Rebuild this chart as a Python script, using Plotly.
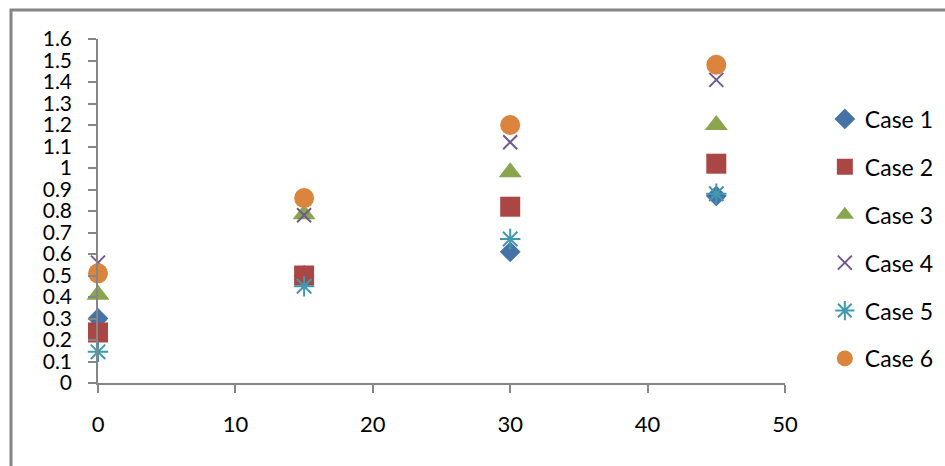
import plotly.graph_objects as go

# Sampling times and measured values for each case
x_vals = [0, 15, 30, 45]
case_names = ["Case 1", "Case 2", "Case 3", "Case 4", "Case 5", "Case 6"]
case1 = [0.30, 0.50, 0.61, 0.87]
case2 = [0.235, 0.50, 0.82, 1.02]
case3 = [0.41, 0.785, 0.98, 1.20]
case4 = [0.56, 0.78, 1.12, 1.41]
case5 = [0.145, 0.45, 0.67, 0.88]
case6 = [0.51, 0.86, 1.20, 1.48]
y_tick_vals = [round(i * 0.1, 1) for i in range(17)]
y_tick_text = ["0" if v == 0 else ("1" if v == 1 else f"{v:g}") for v in y_tick_vals]
x_tick_vals = [0, 10, 20, 30, 40, 50]

series = [case1, case2, case3, case4, case5, case6]
colors = ["#4572A7", "#AA4643", "#89A54E", "#71588F", "#4198AF", "#DB843D"]
symbols = ["diamond", "square", "triangle-up", "x-thin-open", "asterisk-open", "circle"]
sizes = [16, 20, 20, 14, 17, 20]

fig = go.Figure()
for i, (name, ys) in enumerate(zip(case_names, series)):
    open_sym = symbols[i].endswith("open")
    fig.add_trace(go.Scatter(
        x=x_vals, y=ys, name=name, mode="markers", cliponaxis=False,
        legendgroup=name,
        marker=dict(symbol=symbols[i], size=sizes[i], color=colors[i],
                    line=dict(width=2 if open_sym else 0, color=colors[i])),
    ))

axis_color = "#868686"
family = "Lato, Calibri, sans-serif"
x_font = dict(family=family, size=22, color="#000000")
y_font = dict(family=family, size=21, color="#000000")

fig.update_layout(
    width=945, height=466,
    margin=dict(l=98, r=160, t=39, b=83, autoexpand=False),
    paper_bgcolor="white", plot_bgcolor="white",
    font=x_font,
    showlegend=True,
    legend=dict(x=1.058, y=0.83, xanchor="left", yanchor="top",
                font=dict(family=family, size=23, color="#000000"),
                traceorder="grouped", tracegroupgap=15, itemwidth=30,
                bgcolor="rgba(0,0,0,0)"),
    xaxis=dict(range=[0, 50], tickvals=x_tick_vals, showgrid=False, zeroline=False,
               showline=True, linecolor=axis_color, linewidth=1.5,
               ticks="outside", ticklen=8, tickwidth=1.5, tickcolor=axis_color,
               ticklabelstandoff=13, tickfont=x_font),
    yaxis=dict(range=[0, 1.6], tickvals=y_tick_vals, ticktext=y_tick_text,
               showgrid=False, zeroline=False,
               showline=True, linecolor=axis_color, linewidth=1.5,
               ticks="outside", ticklen=8, tickwidth=1.5, tickcolor=axis_color,
               ticklabelstandoff=12, tickfont=y_font),
    # outer chart border: top and left edges run along the page, the rest lies past it
    shapes=[dict(type="rect", xref="paper", yref="paper",
                 x0=(11 - 98) / 687, x1=1.5, y0=-0.5, y1=(466 - 83 - 10) / 344,
                 line=dict(color=axis_color, width=3), fillcolor="rgba(0,0,0,0)",
                 layer="below")],
)

fig.write_html("out.html")
